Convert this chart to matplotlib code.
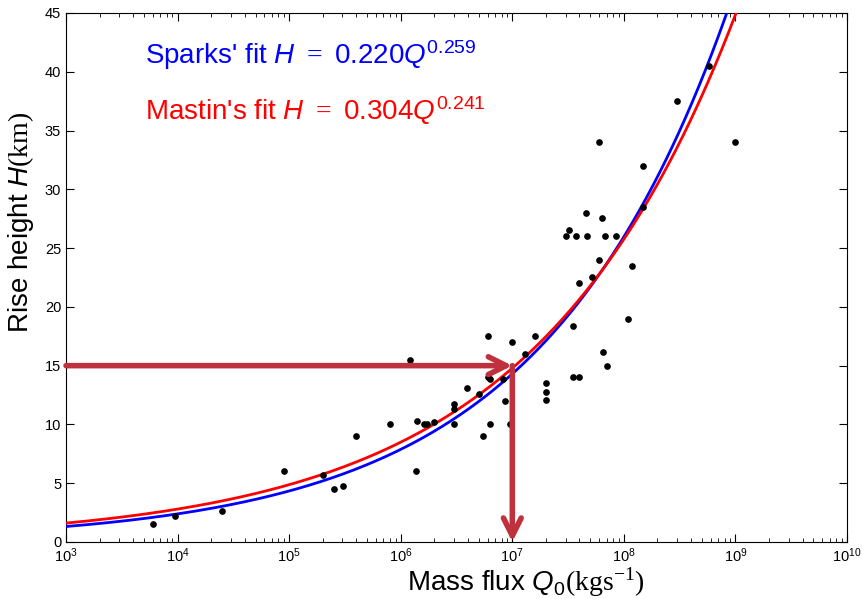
#!/usr/bin/env python3

import numpy as np
import matplotlib
matplotlib.use("Agg")
import matplotlib.pyplot as plt
from matplotlib.patches import FancyArrowPatch

plt.rcParams["font.family"] = ["Liberation Sans", "DejaVu Sans"]
plt.rcParams["mathtext.fontset"] = "custom"
plt.rcParams["mathtext.rm"] = "Liberation Serif"
plt.rcParams["mathtext.it"] = "Liberation Sans:italic"
plt.rcParams["mathtext.sf"] = "Liberation Sans"

# observed eruptions: log10 mass flux (kg/s) and rise height (km)
log_q = [
    3.78, 3.98, 4.40, 4.95, 5.30, 5.40, 5.48, 5.60, 5.90, 6.08,
    6.14, 6.15, 6.21, 6.235, 6.30, 6.48, 6.48, 6.48, 6.59, 6.70,
    6.74, 6.78, 6.78, 6.80, 6.80, 6.915, 6.93, 6.98, 7.00, 7.11,
    7.20, 7.30, 7.30, 7.30, 7.48, 7.51, 7.54, 7.54, 7.57, 7.595,
    7.60, 7.66, 7.67, 7.715, 7.775, 7.775, 7.80, 7.81, 7.83, 7.85,
    7.93, 8.04, 8.075, 8.17, 8.175, 8.475, 8.76, 9.00,
]
height = [
    1.5, 2.2, 2.6, 6.0, 5.7, 4.5, 4.8, 9.0, 10.0, 15.5,
    6.0, 10.3, 10.0, 10.0, 10.2, 11.7, 11.3, 10.0, 13.1, 12.6,
    9.0, 17.5, 14.0, 13.9, 10.0, 13.9, 12.0, 10.0, 17.0, 16.0,
    17.5, 13.5, 12.8, 12.1, 26.0, 26.5, 18.4, 14.0, 26.0, 14.0,
    22.0, 28.0, 26.0, 22.5, 34.0, 24.0, 27.6, 16.2, 26.0, 15.0,
    26.0, 19.0, 23.5, 32.0, 28.5, 37.5, 40.5, 34.0,
]

# power-law fits H = a * Q^b
SPARKS = (0.220, 0.259)
MASTIN = (0.304, 0.241)

# example reading: Q = 1e7 kg/s -> H = 15 km
Q_EXAMPLE = 1e7
H_EXAMPLE = 15

ARROW_COLOR = "#C0313E"

fig = plt.figure(figsize=(8.63, 5.99), dpi=100)
ax = fig.add_axes([0.0765, 0.0952, 0.905, 0.8831])

q = np.logspace(3, 10, 600)
ax.plot(q, SPARKS[0] * q ** SPARKS[1], color="#0000FF", lw=2, zorder=3)
ax.plot(q, MASTIN[0] * q ** MASTIN[1], color="#FF0000", lw=2, zorder=3)

ax.plot(10 ** np.array(log_q), height, "o", color="black", ms=3.8, zorder=4)

for start, end in [((1e3, H_EXAMPLE), (Q_EXAMPLE, H_EXAMPLE)),
                   ((Q_EXAMPLE, H_EXAMPLE), (Q_EXAMPLE, 0))]:
    ax.add_patch(FancyArrowPatch(start, end, arrowstyle="->", color=ARROW_COLOR,
                                 lw=4, mutation_scale=32, shrinkA=0, shrinkB=0,
                                 zorder=5, clip_on=False))

ax.text(0.101, 0.904,
        r"Sparks' fit $H\ =\ \mathsf{0.220}Q^{\mathsf{0.259}}$",
        transform=ax.transAxes, color="#0000FF", fontsize=20, va="baseline")
ax.text(0.101, 0.798,
        r"Mastin's fit $H\ =\ \mathsf{0.304}Q^{\mathsf{0.241}}$",
        transform=ax.transAxes, color="#FF0000", fontsize=20, va="baseline")

ax.set_xscale("log")
ax.set_xlim(1e3, 1e10)
ax.set_ylim(0, 45)
ax.set_yticks(np.arange(0, 46, 5))
ax.tick_params(which="both", direction="in", top=True, right=True, labelsize=10.5)
ax.tick_params(which="major", length=6)
ax.tick_params(which="minor", length=3)

ax.set_xlabel(r"Mass flux $Q_{\mathsf{0}}(\mathrm{kgs}^{-1})$", fontsize=20)
ax.set_ylabel(r"Rise height $H(\mathrm{km})$", fontsize=20)
ax.xaxis.set_label_coords(0.588, -0.043)
ax.yaxis.set_label_coords(-0.038, 0.605)

fig.savefig("out.png", dpi=100)
